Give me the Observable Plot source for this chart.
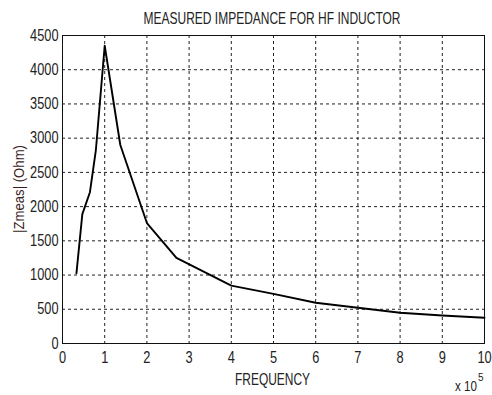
<!DOCTYPE html>
<html>
<head>
<meta charset="utf-8">
<script src="https://cdn.jsdelivr.net/npm/d3@7"></script>
<script src="https://cdn.jsdelivr.net/npm/@observablehq/plot@0.6"></script>
<style>
  html, body { margin: 0; padding: 0; background: #fff; }
  svg { display: block; overflow: visible; }
</style>
</head>
<body>
<div id="chart"></div>
<script>
// Frequency (Hz) and measured impedance magnitude (Ohm)
const frequency = [33000, 47000, 65000, 79000, 100000, 137000, 200000, 270000, 400000, 500000, 600000, 700000, 800000, 900000, 1000000];
const impedance = [1025, 1890, 2210, 2820, 4350, 2900, 1760, 1250, 845, 726, 595, 522, 449, 409, 376];
const xTicks = [0, 1e5, 2e5, 3e5, 4e5, 5e5, 6e5, 7e5, 8e5, 9e5, 1e6];
const yTicks = [0, 500, 1000, 1500, 2000, 2500, 3000, 3500, 4000, 4500];

const data = frequency.map((f, i) => ({f, z: impedance[i]}));
const font = "'Liberation Sans', Arial, sans-serif";

const chart = Plot.plot({
  width: 492,
  height: 395,
  marginLeft: 62,
  marginRight: 8,
  marginTop: 35,
  marginBottom: 52,
  style: {fontFamily: font, fontSize: "16px", color: "#222", background: "#fff"},
  x: {domain: [0, 1e6], ticks: xTicks},
  y: {domain: [0, 4500], ticks: yTicks},
  marks: [
    Plot.gridX(xTicks.slice(1, -1), {stroke: "#222", strokeOpacity: 1, strokeDasharray: "3,3"}),
    Plot.gridY(yTicks.slice(1, -1), {stroke: "#222", strokeOpacity: 1, strokeDasharray: "3,3"}),
    Plot.frame({stroke: "#111", strokeWidth: 1}),
    Plot.axisX(xTicks, {tickSize: 0, tickPadding: 8, tickFormat: d => String(d / 1e5), label: null, fontSize: 16}),
    Plot.axisY(yTicks, {tickSize: 0, tickPadding: 4, tickFormat: d => String(d), label: null, fontSize: 16}),
    Plot.line(data, {x: "f", y: "z", stroke: "#000", strokeWidth: 1.9})
  ]
});

document.getElementById("chart").appendChild(chart);

const svg = d3.select(chart);
// condense tick labels (narrow look of the original)
svg.selectAll("g[aria-label='x-axis tick label'] text, g[aria-label='y-axis tick label'] text")
  .each(function() {
    const t = this.textContent;
    this.setAttribute("textLength", t.length * 7.1);
    this.setAttribute("lengthAdjust", "spacingAndGlyphs");
  });

function addText(x, y, str, size, len, fill, anchor, transform) {
  const t = svg.append("text")
    .attr("text-anchor", anchor || "middle")
    .style("font-family", font).style("font-size", size + "px").attr("fill", fill || "#222")
    .attr("textLength", len).attr("lengthAdjust", "spacingAndGlyphs")
    .text(str);
  if (transform) t.attr("transform", transform);
  else t.attr("x", x).attr("y", y);
  return t;
}
addText(272, 24, "MEASURED IMPEDANCE FOR HF INDUCTOR", 17, 257);
addText(272.5, 385, "FREQUENCY", 17, 75);
addText(0, 0, "|Zmeas| (Ohm)", 15, 88, "#3a1c1c", "middle", "translate(24,189) rotate(-90)");
const mult = svg.append("text")
  .attr("x", 455).attr("y", 391).attr("text-anchor", "start")
  .style("font-family", font).style("font-size", "15px").attr("fill", "#222");
mult.append("tspan").attr("textLength", 22).attr("lengthAdjust", "spacingAndGlyphs").text("x 10");
mult.append("tspan").attr("dx", 1).attr("dy", -10).style("font-size", "10px").text("5");
</script>
</body>
</html>
